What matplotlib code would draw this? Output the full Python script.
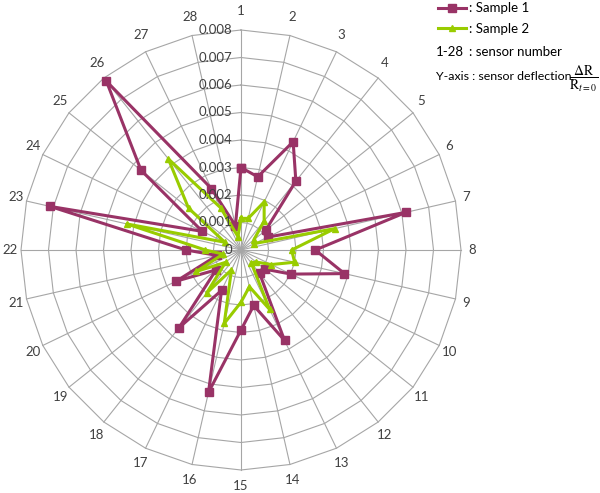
import numpy as np
import matplotlib
matplotlib.use("Agg")
import matplotlib.pyplot as plt
from matplotlib.lines import Line2D

plt.rcParams['font.family'] = ['Lato', 'DejaVu Sans']

sensors = list(range(1, 29))
sample1 = [0.0030, 0.00273, 0.00437, 0.0032, 0.00114, 0.00108, 0.00615, 0.0027,
           0.00386, 0.00202, 0.00112, 0.00108, 0.00365, 0.00207, 0.00291, 0.00531,
           0.00163, 0.00362, 0.00116, 0.00261, 0.00089, 0.0020, 0.00712, 0.00156,
           0.00465, 0.00785, 0.00248, 0.00091]
sample2 = [0.00115, 0.00118, 0.00194, 0.00135, 0.0006, 0.00054, 0.0035, 0.00184,
           0.0020, 0.00122, 0.0007, 0.0006, 0.0024, 0.00137, 0.0019, 0.00274,
           0.0008, 0.0020, 0.00072, 0.0018, 0.00067, 0.0013, 0.00426, 0.00065,
           0.00244, 0.00424, 0.0017, 0.0005]
r_ticks = [0, 0.001, 0.002, 0.003, 0.004, 0.005, 0.006, 0.007, 0.008]
tick_labels = ['0', '0.001', '0.002', '0.003', '0.004', '0.005', '0.006', '0.007', '0.008']

W, H = 600, 493
fig = plt.figure(figsize=(W / 100, H / 100), dpi=100)
cx, cy, R = 241, 250, 220
ax = fig.add_axes([(cx - R) / W, (H - cy - R) / H, 2 * R / W, 2 * R / H], projection='polar')
ax.set_theta_zero_location('N')
ax.set_theta_direction(-1)
ax.set_ylim(0, r_ticks[-1])
ax.axis('off')

n = len(sensors)
theta = np.arange(n) * 2 * np.pi / n
theta_c = np.append(theta, theta[0])
grid_col = '#a6a6a6'
for r in r_ticks[1:]:
    ax.plot(theta_c, [r] * (n + 1), color=grid_col, lw=0.8, zorder=1, clip_on=False)
for t in theta:
    ax.plot([t, t], [0, r_ticks[-1]], color=grid_col, lw=0.8, zorder=1, clip_on=False)

c1 = '#993366'
c2 = '#99cc00'
ax.plot(theta_c, np.append(sample1, sample1[0]), color=c1, lw=2.2, marker='s', ms=5.5,
        zorder=3, clip_on=False)
ax.plot(theta_c, np.append(sample2, sample2[0]), color=c2, lw=2.2, marker='^', ms=5,
        zorder=4, clip_on=False)

txt_col = '#404040'
for t, s in zip(theta, sensors):
    c = np.cos(t)
    dy = 19 * c if c > 0 else 16 * c
    ax.annotate(str(s), xy=(t, r_ticks[-1]),
                xytext=(11 * np.sin(t), dy), textcoords='offset pixels',
                ha='center', va='center', fontsize=9.5, color=txt_col, annotation_clip=False)

for r, lbl in zip(r_ticks, tick_labels):
    ax.annotate(lbl, xy=(0, r), xytext=(-9, 0), textcoords='offset pixels',
                ha='right', va='center', fontsize=9.5, color=txt_col, zorder=5)

def fx(x):
    return x / W

def fy(y):
    return 1 - y / H

fig.add_artist(Line2D([fx(438), fx(466)], [fy(8), fy(8)], color=c1, lw=2.2))
fig.add_artist(Line2D([fx(452)], [fy(8)], color=c1, marker='s', ms=5.5))
fig.add_artist(Line2D([fx(438), fx(466)], [fy(28), fy(28)], color=c2, lw=2.2))
fig.add_artist(Line2D([fx(452)], [fy(28)], color=c2, marker='^', ms=5))
fig.text(fx(469), fy(8), ': Sample 1', ha='left', va='center', fontsize=9.5, color='black')
fig.text(fx(469), fy(29), ': Sample 2', ha='left', va='center', fontsize=9.5, color='black')
fig.text(fx(436), fy(52), '1-28', ha='left', va='center', fontsize=9.5, color='black')
fig.text(fx(469), fy(52), ': sensor number', ha='left', va='center', fontsize=9.5, color='black')
fig.text(fx(436), fy(76), 'Y-axis : sensor deflection,', ha='left', va='center', fontsize=8.9,
         color='black')
fig.text(fx(584), fy(79), r'$\dfrac{\Delta \mathrm{R}}{\mathrm{R}_{t=0}}$', ha='center', va='center',
         fontsize=10, color='black', math_fontfamily='stix')

fig.savefig('out.png', dpi=100, facecolor='white')
